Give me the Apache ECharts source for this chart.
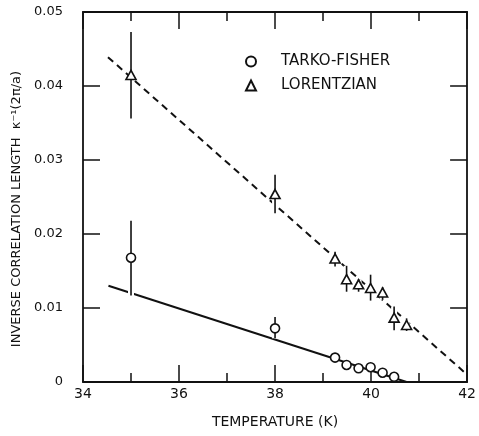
<!DOCTYPE html>
<html>
<head>
<meta charset="utf-8">
<script src="https://cdn.jsdelivr.net/npm/echarts@6/dist/echarts.min.js"></script>
<style>
html,body{margin:0;padding:0;background:#fff;}
#main{width:479px;height:436px;}
</style>
</head>
<body>
<div id="main"></div>
<script>
// Tarko-Fisher points (circles)
var tempTF = [35, 38, 39.25, 39.49, 39.74, 39.99, 40.24, 40.48];
var kappaTF = [0.0168, 0.00725, 0.0033, 0.0023, 0.00185, 0.0020, 0.00126, 0.0007];
var loTF = [0.0117, 0.0059, 0.0027, null, null, null, null, null];
var hiTF = [0.0218, 0.0088, 0.0039, null, null, null, null, null];

// Lorentzian points (triangles)
var tempLor = [35, 38, 39.25, 39.49, 39.74, 39.99, 40.24, 40.48, 40.74];
var kappaLor = [0.0415, 0.0254, 0.0167, 0.0139, 0.0132, 0.0127, 0.0121, 0.0087, 0.0077];
var loLor = [0.0356, 0.0228, 0.0156, 0.0122, 0.0122, 0.0110, 0.0111, 0.0070, 0.0069];
var hiLor = [0.0473, 0.0280, 0.0176, 0.0157, 0.0139, 0.0145, 0.0128, 0.0102, 0.0086];

// fitted lines
var fitTFx = [34.53, 40.74];
var fitTFy = [0.0130, 0.0];
var fitLorx = [34.52, 41.93];
var fitLory = [0.0439, 0.0014];

var xTicks = [34, 36, 38, 40, 42];
var yTicks = [0, 0.01, 0.02, 0.03, 0.04, 0.05];

var ink = '#111';
var font = 'DejaVu Sans';

function pairs(xs, ys){
	var out = [];
	for(var i=0;i<xs.length;i++){ out.push([xs[i], ys[i]]); }
	return out;
}
function errs(xs, lo, hi){
	var out = [];
	for(var i=0;i<xs.length;i++){
		if(lo[i] != null){ out.push([xs[i], lo[i], hi[i]]); }
	}
	return out;
}
function axis(extra){
	var base = {
		type: 'value',
		axisLine: {show:true, onZero:false, lineStyle:{color:ink, width:1.8}},
		splitLine: {show:false},
		axisTick: {show:true, inside:true, length:17, lineStyle:{color:ink, width:1.5}}
	};
	for(var k in extra){ base[k] = extra[k]; }
	return base;
}
function renderErr(params, api){
	var a = api.coord([api.value(0), api.value(1)]);
	var b = api.coord([api.value(0), api.value(2)]);
	return {
		type: 'group',
		children: [
			{type:'line', shape:{x1:a[0], y1:a[1], x2:b[0], y2:b[1]}, style:{stroke:'#fff', lineWidth:6}},
			{type:'line', shape:{x1:a[0], y1:a[1], x2:b[0], y2:b[1]}, style:{stroke:ink, lineWidth:1.6}}
		]
	};
}

var myChart = echarts.init(document.getElementById('main'));
var minorX = {show:true, splitNumber:2, length:9, lineStyle:{color:ink, width:1.5}};
var option = {
	backgroundColor: '#fff',
	animation: false,
	grid: {left:83, right:7, top:12, bottom:54},
	legend: {
		data: ['TARKO-FISHER', 'LORENTZIAN'],
		orient: 'vertical',
		left: 240,
		top: 49,
		itemWidth: 10,
		itemHeight: 10,
		itemGap: 9,
		textStyle: {color:ink, fontFamily:font, fontSize:15, padding:[0,0,0,20]}
	},
	xAxis: [
		axis({
			position: 'bottom', min: 34, max: 42, interval: 2,
			minorTick: minorX,
			axisLabel: {color:ink, fontFamily:font, fontSize:14, margin:5,
				formatter: function(v){ return xTicks.indexOf(v) >= 0 ? String(v) : ''; }},
			name: 'TEMPERATURE (K)', nameLocation: 'middle', nameGap: 33,
			nameTextStyle: {color:ink, fontFamily:font, fontSize:14}
		}),
		axis({
			position: 'top', min: 34, max: 42, interval: 2,
			minorTick: minorX,
			axisLabel: {show:false}
		})
	],
	yAxis: [
		axis({
			position: 'left', min: 0, max: 0.05, interval: 0.01,
			axisLabel: {color:ink, fontFamily:font, fontSize:13, margin:20,
				formatter: function(v){ return v === 0 ? '0' : v.toFixed(2); }},
			name: 'INVERSE CORRELATION LENGTH  \u03ba\u207b\u00b9(2\u03c0/a)', nameLocation: 'middle', nameGap: 51,
			nameTextStyle: {color:ink, fontFamily:font, fontSize:13, padding:[0,24,0,0]}
		}),
		axis({
			position: 'right', min: 0, max: 0.05, interval: 0.01,
			axisLabel: {show:false}
		})
	],
	series: [
		{
			name: 'fitTF', type: 'line', data: pairs(fitTFx, fitTFy), showSymbol: false, z: 2,
			lineStyle: {color:ink, width:2}
		},
		{
			name: 'fitLor', type: 'line', data: pairs(fitLorx, fitLory), showSymbol: false, z: 2,
			lineStyle: {color:ink, width:2, type:[7,5]}
		},
		{
			name: 'errTF', type: 'custom', renderItem: renderErr, data: errs(tempTF, loTF, hiTF), z: 3
		},
		{
			name: 'errLor', type: 'custom', renderItem: renderErr, data: errs(tempLor, loLor, hiLor), z: 3
		},
		{
			name: 'TARKO-FISHER', type: 'scatter', data: pairs(tempTF, kappaTF), z: 4,
			symbol: 'circle', symbolSize: 9,
			itemStyle: {color:'#fff', borderColor:ink, borderWidth:1.6, opacity:1}
		},
		{
			name: 'LORENTZIAN', type: 'scatter', data: pairs(tempLor, kappaLor), z: 4,
			symbol: 'triangle', symbolSize: [10, 9],
			itemStyle: {color:'#fff', borderColor:ink, borderWidth:1.6, opacity:1}
		}
	]
};
myChart.setOption(option);
</script>
</body>
</html>
